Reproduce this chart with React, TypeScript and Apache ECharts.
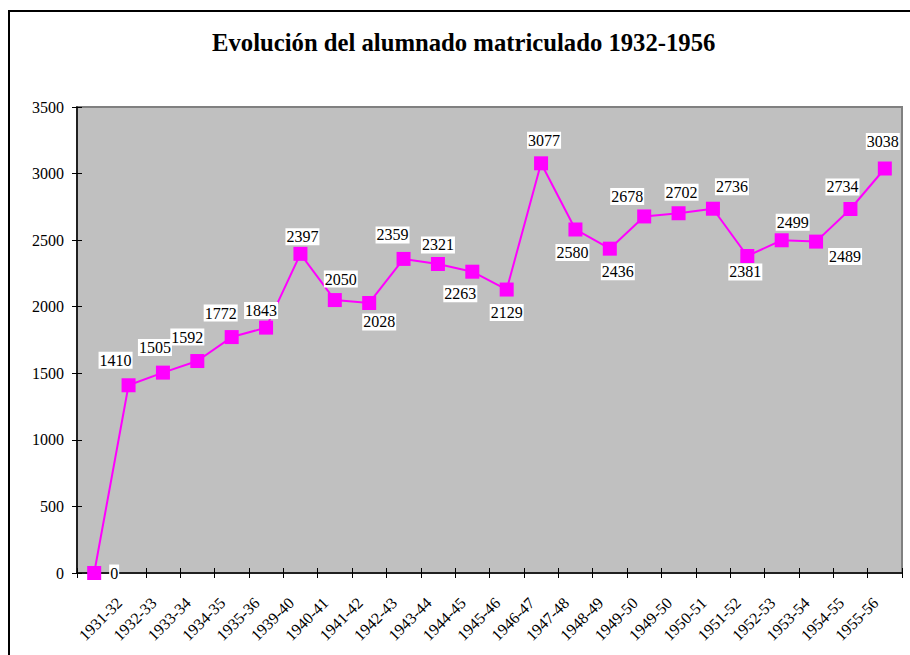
import React, { useEffect, useRef } from "react";
import * as echarts from "echarts";

const titleText = "Evolución del alumnado matriculado 1932-1956";

const categories = [
  "", "1931-32", "1932-33", "1933-34", "1934-35", "1935-36", "1939-40", "1940-41",
  "1941-42", "1942-43", "1943-44", "1944-45", "1945-46", "1946-47", "1947-48",
  "1948-49", "1949-50", "1949-50", "1950-51", "1951-52", "1952-53", "1953-54",
  "1954-55", "1955-56",
];

const students = [
  0, 1410, 1505, 1592, 1772, 1843, 2397, 2050, 2028, 2359, 2321, 2263, 2129,
  3077, 2580, 2436, 2678, 2702, 2736, 2381, 2499, 2489, 2734, 3038,
];

const yTicks = { min: 0, max: 3500, interval: 500 };

// label placement relative to marker centre (style, not data)
const labelOffsets: [number, number][] = [
  [20, 0], [-13, -25], [-8, -25], [-10, -24], [-11, -24], [-5, -17], [2, -17],
  [6, -21], [10, 19], [-11, -24], [0, -19], [-12, 22], [0, 23], [3, -23],
  [-3, 23], [8, 23], [-17, -20], [3, -21], [19, -22], [-2, 16], [11, -18],
  [29, 15], [-8, -22], [-2, -27],
];

const MAGENTA = "#FF00FF";

export default function App() {
  const ref = useRef<HTMLDivElement>(null);
  useEffect(() => {
    document.body.style.margin = "0";
    if (!ref.current) return;
    const chart = echarts.init(ref.current, undefined, { renderer: "svg" });
    chart.setOption({
      animation: false,
      title: {
        text: titleText,
        left: 212,
        top: 30,
        padding: 0,
        textStyle: { fontFamily: "Liberation Serif", fontSize: 24.7, fontWeight: "bold", color: "#000" },
      },
      graphic: [
        {
          type: "rect",
          shape: { x: 9, y: 11, width: 920, height: 680 },
          style: { fill: "none", stroke: "#000", lineWidth: 2 },
          silent: true,
          z: 100,
        },
      ],
      grid: {
        left: 77,
        right: 8,
        top: 107,
        bottom: 82,
        show: true,
        backgroundColor: "#C0C0C0",
        borderColor: "#808080",
        borderWidth: 2,
      },
      xAxis: [
        {
          type: "category",
          data: categories,
          boundaryGap: true,
          axisLine: { lineStyle: { color: "#000", width: 1.5 } },
          axisTick: { show: true, length: 5, interval: 0, lineStyle: { color: "#000" } },
          axisLabel: {
            interval: 0,
            rotate: 45,
            margin: 18,
            padding: [0, 13, 0, 0],
            fontFamily: "Liberation Serif",
            fontSize: 16,
            color: "#000",
          },
          splitLine: { show: false },
        },
        {
          type: "category",
          data: categories,
          position: "bottom",
          boundaryGap: true,
          axisLine: { show: false },
          axisTick: { show: true, inside: true, length: 5, interval: 0, lineStyle: { color: "#000" } },
          axisLabel: { show: false },
          splitLine: { show: false },
        },
      ],
      yAxis: [
        {
          type: "value",
          ...yTicks,
          axisLine: { show: true, lineStyle: { color: "#000", width: 1.5 } },
          axisTick: { show: true, length: 5, lineStyle: { color: "#000" } },
          axisLabel: {
            margin: 13,
            fontFamily: "Liberation Serif",
            fontSize: 16,
            color: "#000",
            formatter: (v: number) => String(v),
          },
          splitLine: { show: false },
        },
        {
          type: "value",
          position: "left",
          ...yTicks,
          axisLine: { show: false },
          axisTick: { show: true, inside: true, length: 5, lineStyle: { color: "#000" } },
          axisLabel: { show: false },
          splitLine: { show: false },
        },
      ],
      series: [
        {
          type: "line",
          xAxisIndex: 0,
          yAxisIndex: 0,
          data: students.map((v, i) => ({
            value: v,
            label: { offset: labelOffsets[i] },
          })),
          symbol: "rect",
          symbolSize: 14,
          showAllSymbol: true,
          itemStyle: { color: MAGENTA },
          lineStyle: { color: MAGENTA, width: 2 },
          label: {
            show: true,
            position: "inside",
            fontFamily: "Liberation Serif",
            fontSize: 16,
            lineHeight: 16,
            color: "#000",
            backgroundColor: "#ffffff",
            padding: [1, 1, 0, 1],
            formatter: (p: any) => String(p.value),
          },
          z: 5,
        },
      ],
    });
    return () => chart.dispose();
  }, []);
  return <div ref={ref} style={{ width: 910, height: 655 }} />;
}
